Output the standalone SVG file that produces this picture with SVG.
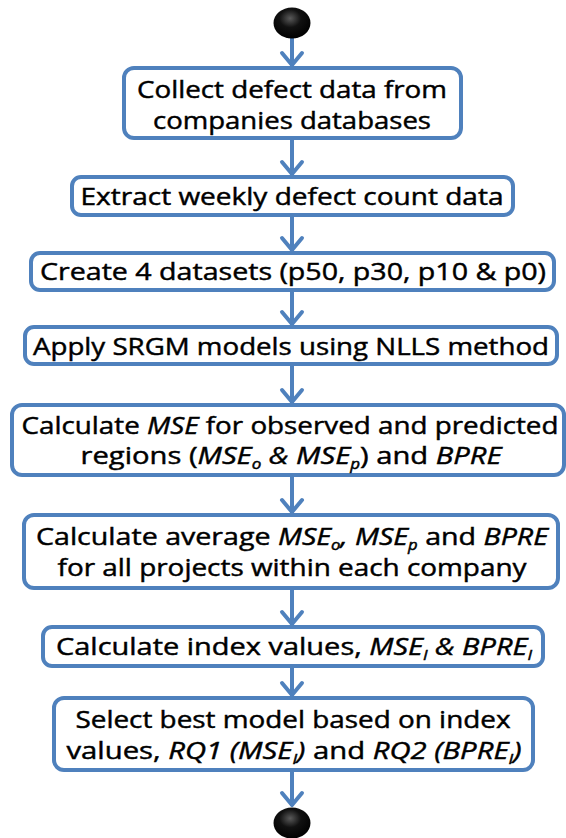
<svg xmlns="http://www.w3.org/2000/svg" width="566" height="838" viewBox="0 0 566 838">
  <style>
    .box { fill: #ffffff; stroke: #4F81BD; stroke-width: 4; }
    .wire { fill: none; stroke: #4F81BD; stroke-width: 4; }
    .lbl { font-family: "Open Sans", "Liberation Sans", sans-serif; font-size: 24px; fill: #000000; stroke: #000000; stroke-width: 0.45px; text-anchor: middle; }
    .it { font-style: italic; }
    .sub { font-size: 14px; font-style: italic; }
  </style>
  <defs>
    <radialGradient id="ball" cx="0.45" cy="0.35" r="0.65">
      <stop offset="0" stop-color="#5a5a5a"/>
      <stop offset="0.45" stop-color="#111111"/>
      <stop offset="1" stop-color="#000000"/>
    </radialGradient>
    <marker id="head" markerUnits="userSpaceOnUse" viewBox="-4 -14 22 28" refX="14" refY="0" markerWidth="22" markerHeight="28" orient="auto">
      <path d="M1,-10 L13,0 L1,10" fill="none" stroke="#4F81BD" stroke-width="4" stroke-linejoin="round" stroke-linecap="round"/>
    </marker>
  </defs>
  <rect width="566" height="838" fill="#ffffff"/>

  <!-- connectors -->
  <g id="connectors">
    <line class="wire" x1="292" y1="38" x2="292" y2="66" marker-end="url(#head)"/>
    <line class="wire" x1="292" y1="138" x2="292" y2="175" marker-end="url(#head)"/>
    <line class="wire" x1="292" y1="215" x2="292" y2="251" marker-end="url(#head)"/>
    <line class="wire" x1="292" y1="290" x2="292" y2="325" marker-end="url(#head)"/>
    <line class="wire" x1="292" y1="364" x2="292" y2="403" marker-end="url(#head)"/>
    <line class="wire" x1="292" y1="475" x2="292" y2="513" marker-end="url(#head)"/>
    <line class="wire" x1="292" y1="588" x2="292" y2="625" marker-end="url(#head)"/>
    <line class="wire" x1="292" y1="666" x2="292" y2="696" marker-end="url(#head)"/>
    <line class="wire" x1="292" y1="770" x2="292" y2="806" marker-end="url(#head)"/>
  </g>

  <!-- start node -->
  <g id="start">
    <ellipse cx="292" cy="23" rx="18.5" ry="15.5" fill="url(#ball)"/>
  </g>

  <g id="collect">
    <rect class="box" x="124" y="68" width="337" height="70" rx="10"/>
    <text class="lbl" x="292" y="98" textLength="310" lengthAdjust="spacingAndGlyphs">Collect defect data from</text>
    <text class="lbl" x="292" y="129" textLength="278" lengthAdjust="spacingAndGlyphs">companies databases</text>
  </g>

  <g id="extract">
    <rect class="box" x="72" y="177" width="441" height="38" rx="9"/>
    <text class="lbl" x="292" y="205" textLength="423" lengthAdjust="spacingAndGlyphs">Extract weekly defect count data</text>
  </g>

  <g id="datasets">
    <rect class="box" x="31" y="253" width="523" height="37" rx="9"/>
    <text class="lbl" x="293" y="280" textLength="506" lengthAdjust="spacingAndGlyphs">Create 4 datasets (p50, p30, p10 &amp; p0)</text>
  </g>

  <g id="apply">
    <rect class="box" x="25" y="327" width="532" height="37" rx="9"/>
    <text class="lbl" x="291" y="355" textLength="516" lengthAdjust="spacingAndGlyphs">Apply SRGM models using NLLS method</text>
  </g>

  <g id="mse">
    <rect class="box" x="12" y="405" width="552" height="70" rx="10"/>
    <text class="lbl" x="290" y="434" textLength="537" lengthAdjust="spacingAndGlyphs">Calculate <tspan class="it">MSE</tspan> for observed and predicted</text>
    <text class="lbl" x="291" y="464" textLength="421" lengthAdjust="spacingAndGlyphs">regions (<tspan class="it">MSE</tspan><tspan class="sub" dy="5">o</tspan><tspan class="it" dy="-5"> &amp; MSE</tspan><tspan class="sub" dy="5">p</tspan><tspan dy="-5">) and </tspan><tspan class="it">BPRE</tspan></text>
  </g>

  <g id="average">
    <rect class="box" x="24" y="515" width="534" height="73" rx="10"/>
    <text class="lbl" x="292" y="545" textLength="512" lengthAdjust="spacingAndGlyphs">Calculate average <tspan class="it">MSE</tspan><tspan class="sub" dy="5">o</tspan><tspan class="it" dy="-5">, MSE</tspan><tspan class="sub" dy="5">p</tspan><tspan dy="-5"> and </tspan><tspan class="it">BPRE</tspan></text>
    <text class="lbl" x="292" y="576" textLength="469" lengthAdjust="spacingAndGlyphs">for all projects within each company</text>
  </g>

  <g id="index">
    <rect class="box" x="43" y="627" width="500" height="39" rx="9"/>
    <text class="lbl" x="294" y="655" textLength="476" lengthAdjust="spacingAndGlyphs">Calculate index values, <tspan class="it">MSE</tspan><tspan class="sub" dy="5">I</tspan><tspan class="it" dy="-5"> &amp; BPRE</tspan><tspan class="sub" dy="5">I</tspan></text>
  </g>

  <g id="select">
    <rect class="box" x="54" y="698" width="479" height="72" rx="10"/>
    <text class="lbl" x="293" y="728" textLength="435" lengthAdjust="spacingAndGlyphs">Select best model based on index</text>
    <text class="lbl" x="294" y="759" textLength="455" lengthAdjust="spacingAndGlyphs">values, <tspan class="it">RQ1 (MSE</tspan><tspan class="sub" dy="5">I</tspan><tspan class="it" dy="-5">)</tspan> and <tspan class="it">RQ2 (BPRE</tspan><tspan class="sub" dy="5">I</tspan><tspan class="it" dy="-5">)</tspan></text>
  </g>

  <!-- end node -->
  <g id="end">
    <ellipse cx="292" cy="823" rx="18.5" ry="15.5" fill="url(#ball)"/>
  </g>
</svg>
